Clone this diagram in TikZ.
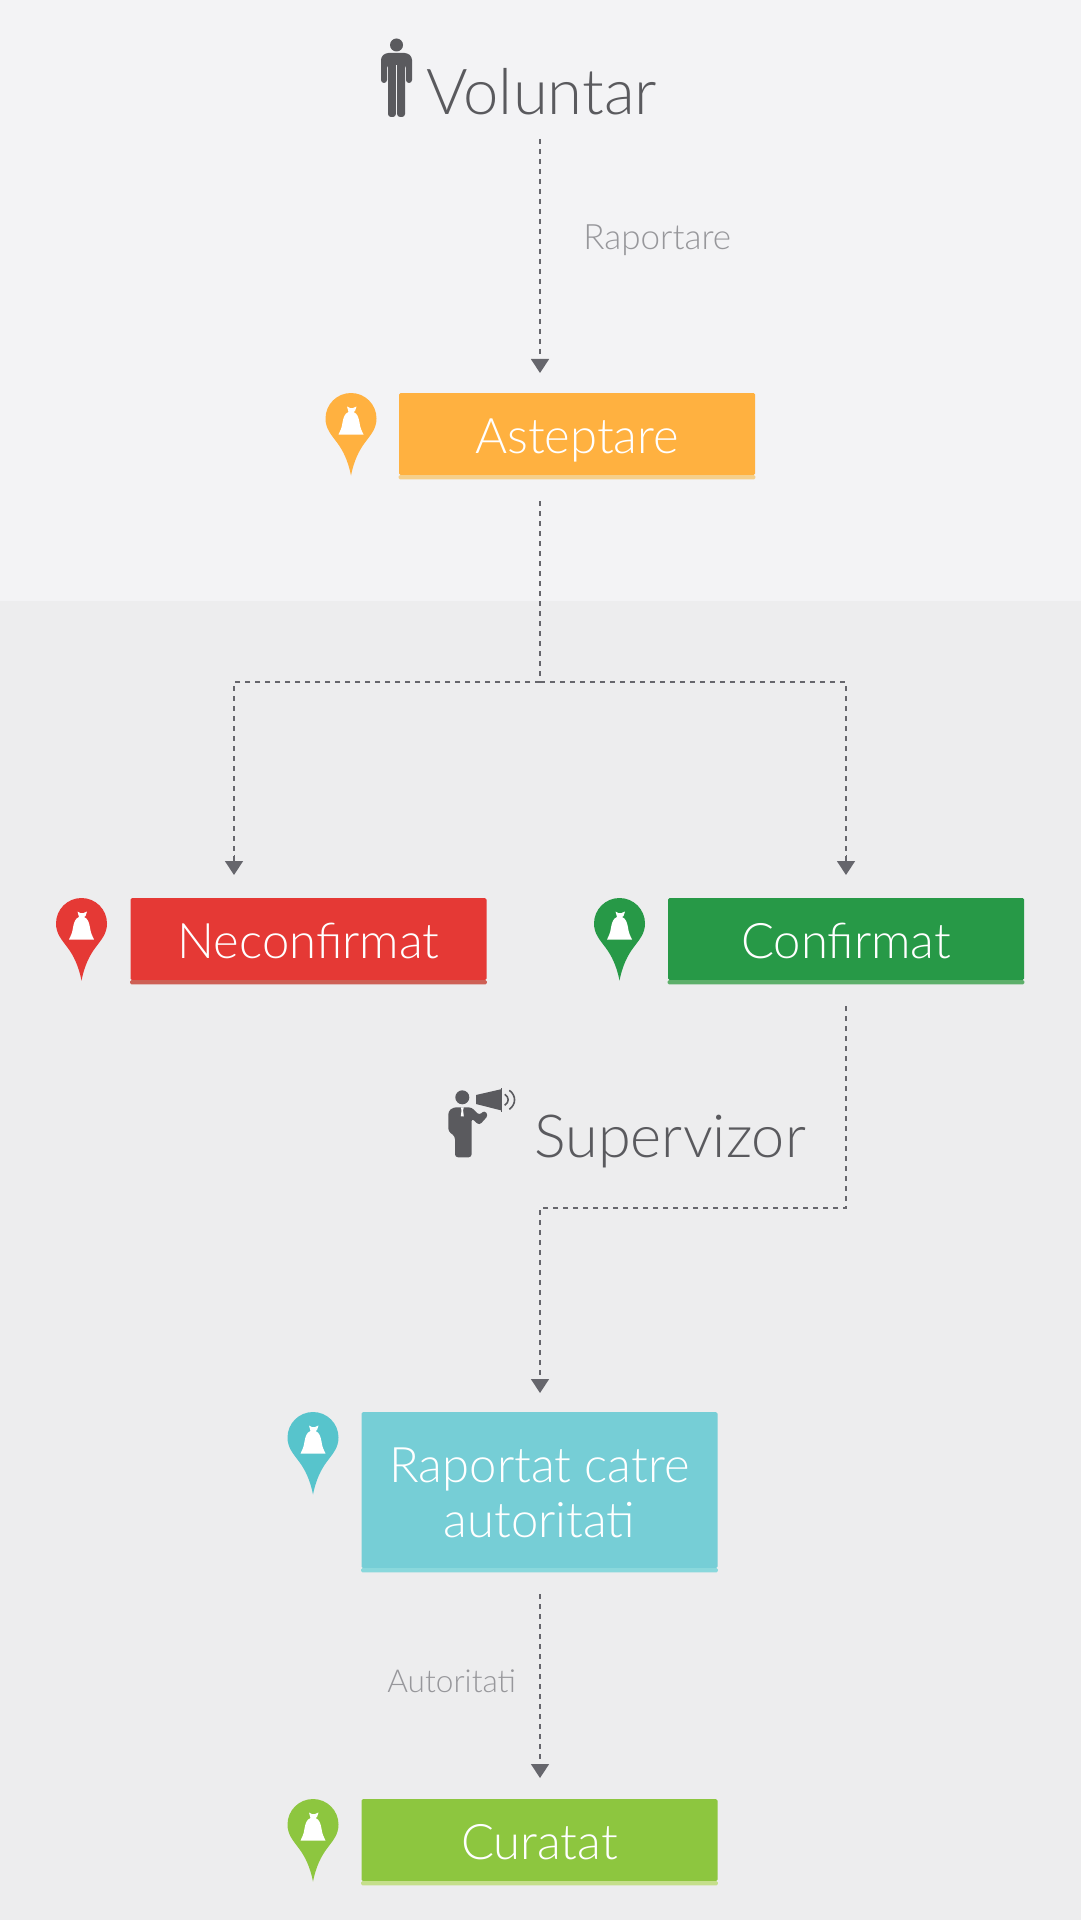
\documentclass[tikz,border=0pt]{standalone}
\usepackage{fontspec}
\setmainfont{Lato}[UprightFont=* Light]
\usetikzlibrary{calc}
\usetikzlibrary{positioning}
\usetikzlibrary{arrows.meta}
\definecolor{topbg}{HTML}{F3F3F5}
\definecolor{lowbg}{HTML}{EDEDEE}
\definecolor{inkgrey}{HTML}{5A5A5E}
\definecolor{labelgrey}{HTML}{97979B}
\definecolor{flowgrey}{HTML}{66666C}
\definecolor{waitc}{HTML}{FFB140}
\definecolor{waits}{HTML}{F5CF8A}
\definecolor{redc}{HTML}{E53935}
\definecolor{reds}{HTML}{CE6055}
\definecolor{greenc}{HTML}{279947}
\definecolor{greens}{HTML}{5DAF6A}
\definecolor{tealc}{HTML}{76CED6}
\definecolor{teals}{HTML}{8AD8DC}
\definecolor{tealpin}{HTML}{57C4CC}
\definecolor{limec}{HTML}{8DC63F}
\definecolor{limes}{HTML}{C5DF8B}
\tikzstyle{statusnode} = [inner sep=0pt, minimum width=178pt, rounded corners=0.75pt, text=white, font=\fontsize{24.5}{27.5}\selectfont, align=center]
\tikzstyle{shortnode} = [statusnode, minimum height=41pt, text height=19pt, text depth=0pt]
\tikzstyle{stripline} = [rounded corners=0.75pt]
\tikzstyle{actornode} = [inner sep=0pt, anchor=base west, text=inkgrey]
\tikzstyle{edgenode} = [inner sep=0pt, anchor=base west, text=labelgrey]
\tikzstyle{flowline} = [draw=flowgrey, line width=0.7pt, dash pattern=on 2.5pt off 2.5pt]
\tikzstyle{flowarrow} = [flowline, -{Bar[width=0pt,line width=0pt,sep=3pt]Triangle[width=9pt,length=7pt]}]
\tikzset{
  bagpin/.pic={
    \fill[#1] (-25.5,0) arc (180:0:25.5 and -25.5) .. controls (25.5,10) and (20,16) .. (14,24)
      .. controls (8,32) and (3,42) .. (0,57) .. controls (-3,42) and (-8,32) .. (-14,24)
      .. controls (-20,16) and (-25.5,10) .. (-25.5,0) -- cycle;
    \fill[white] (-4,-12) -- (-1,-10.5) -- (2,-10.5) -- (5.5,-12) -- (4,-7.5) -- (2.5,-6.5)
      .. controls (6.5,-5) and (7.5,-1) .. (8.5,4) .. controls (9,9) and (11,13) .. (12.5,16)
      -- (-12.5,16) .. controls (-11,13) and (-9,9) .. (-8.5,4)
      .. controls (-7.5,-1) and (-6.5,-5) .. (-2.5,-6.5) -- cycle;
  },
  volunteer/.pic={
    \fill[inkgrey] (0,0) circle (3.25pt);
    \fill[inkgrey, rounded corners=1.5pt] (-15.5,38) -- (-15.5,12) -- (-11,8) -- (11,8) -- (15.5,12)
      -- (15.5,38) -- (9.5,38) -- (9.5,20) -- (-9.5,20) -- (-9.5,38) -- cycle;
    \fill[inkgrey, rounded corners=1.5pt] (-8.5,12) rectangle (-0.6,72);
    \fill[inkgrey, rounded corners=1.5pt] (0.6,12) rectangle (8.5,72);
  },
  speaker/.pic={
    \fill[inkgrey] (0,0) circle (3.5pt);
    \fill[inkgrey, rounded corners=1.5pt] (-7.3,39) -- (-14,34) -- (-14,14) -- (-9,10) -- (9.3,10)
      -- (17,18) -- (22,13) -- (26,18) -- (17,28) -- (9.3,21) -- (9.3,60) -- (-7.3,60) -- cycle;
    \fill[white] (-1.5,10) -- (1.5,10) -- (0.8,13) -- (1.5,19) -- (-1.5,19) -- (-0.8,13) -- cycle;
    \fill[inkgrey] (13.7,-2.3) -- (38.5,-8) -- (38.5,13) -- (13.7,6.7) -- cycle;
    \fill[inkgrey] (38.5,-9.5) rectangle (40,14.7);
    \draw[inkgrey, line width=0.8pt] (42.5,-3) .. controls (47,0) and (47,5) .. (42.5,8);
    \draw[inkgrey, line width=0.8pt] (47,-7) .. controls (54,-2) and (54,7) .. (47,12);
  }
}
\begin{document}
\begin{tikzpicture}[x=0.5pt, y=-0.5pt]
\useasboundingbox (0,0) rectangle (1081,1920);
\fill[topbg] (0,0) rectangle (1081,601);
\fill[lowbg] (0,601) rectangle (1081,1920);

\node[shortnode, fill=waitc] (asteptare) at (577,434) {Asteptare};
\node[shortnode, fill=redc] (neconfirmat) at ($(asteptare)+(-268.5,505)$) {Neconfirmat};
\node[shortnode, fill=greenc] (confirmat) at ($(asteptare)+(269,505)$) {Confirmat};
\node[statusnode, fill=tealc, minimum height=78pt] (raportat) at ($(asteptare)+(-37.5,1056)$) {\rule{0pt}{20pt}Raportat catre\\autoritati};
\node[shortnode, fill=limec] (curatat) at ($(asteptare)+(-37.5,1406)$) {Curatat};

\fill[waits, stripline] ([yshift=0.2pt]asteptare.south west) rectangle ([yshift=-2pt]asteptare.south east);
\fill[reds, stripline] ([yshift=0.2pt]neconfirmat.south west) rectangle ([yshift=-2pt]neconfirmat.south east);
\fill[greens, stripline] ([yshift=0.2pt]confirmat.south west) rectangle ([yshift=-2pt]confirmat.south east);
\fill[teals, stripline] ([yshift=0.2pt]raportat.south west) rectangle ([yshift=-2pt]raportat.south east);
\fill[limes, stripline] ([yshift=0.2pt]curatat.south west) rectangle ([yshift=-2pt]curatat.south east);

\pic at (351,418.5) {bagpin=waitc};
\pic at (81.5,923.5) {bagpin=redc};
\pic at (619.5,923.5) {bagpin=greenc};
\pic at (313,1437.5) {bagpin=tealpin};
\pic at (313,1824.5) {bagpin=limec};

\pic at (396.5,45) {volunteer};
\pic at (462.3,1097.3) {speaker};

\node[actornode, font=\fontsize{31.7}{35}\selectfont] (voluntar) at (426,115) {Voluntar};
\node[actornode, font=\fontsize{29.7}{33}\selectfont] (supervizor) at (534,1157) {Supervizor};
\node[edgenode, font=\fontsize{17.5}{20}\selectfont] (raportare) at (583,250) {Raportare};
\node[edgenode, font=\fontsize{15.8}{18}\selectfont] (autoritati) at (387,1692) {Autoritati};

\coordinate (voluntarout) at (540,139);
\coordinate (voluntarin) at (540,373);
\coordinate (asteptareout) at (540,501);
\coordinate (branch) at (540,682);
\coordinate (neconfirmatin) at (234,875);
\coordinate (confirmatturn) at (846,682);
\coordinate (confirmatin) at (846,875);
\coordinate (confirmatout) at (846,1006);
\coordinate (supervizorturn) at (846,1208);
\coordinate (raportatturn) at (540,1208);
\coordinate (raportatin) at (540,1393);
\coordinate (raportatout) at (540,1594);
\coordinate (curatatin) at (540,1778);

\draw[flowarrow] (voluntarout) -- (voluntarin);
\draw[flowline] (asteptareout) -- (branch);
\draw[flowarrow] (branch) -| (neconfirmatin);
\draw[flowarrow] (branch) -- (confirmatturn) -- (confirmatin);
\draw[flowarrow] (confirmatout) -- (supervizorturn) -- (raportatturn) -- (raportatin);
\draw[flowarrow] (raportatout) -- (curatatin);
\end{tikzpicture}
\end{document}
